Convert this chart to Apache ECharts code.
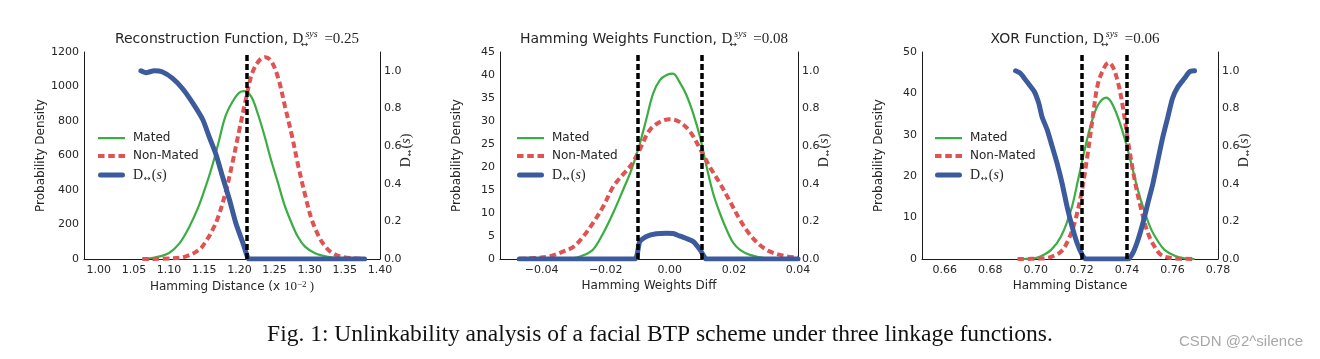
<!DOCTYPE html>
<html><head><meta charset="utf-8">
<script src="https://cdn.jsdelivr.net/npm/echarts@6/dist/echarts.min.js"></script>
<style>html,body{margin:0;padding:0;background:#fff}#c{width:1320px;height:359px}</style>
</head><body><div id="c"></div>
<script>
// ---------- Data ----------
// Reconstruction function
const reconMatedX = [1.062,1.081,1.100,1.115,1.128,1.142,1.152,1.161,1.170,1.180,1.190,1.200,1.207,1.217,1.226,1.236,1.245,1.255,1.264,1.274,1.283,1.293,1.307,1.326,1.340,1.378];
const reconMatedY = [0,10,35,92,180,305,420,535,670,825,910,965,973,940,845,710,575,440,315,210,130,73,35,12,4,0];
const reconNonX = [1.062,1.105,1.124,1.143,1.152,1.162,1.170,1.180,1.190,1.200,1.210,1.218,1.228,1.237,1.246,1.256,1.265,1.275,1.284,1.294,1.303,1.313,1.322,1.332,1.346,1.378];
const reconNonY = [0,4,15,54,100,170,245,380,555,750,940,1075,1150,1170,1143,1037,882,710,535,362,227,131,73,35,12,0];
const reconDX = [1.060,1.067,1.079,1.090,1.105,1.119,1.134,1.148,1.157,1.167,1.176,1.186,1.195,1.205,1.212,1.214,1.378];
const reconDY = [1.0,0.99,1.0,0.995,0.96,0.906,0.827,0.74,0.65,0.553,0.438,0.314,0.19,0.085,0.005,0,0];
const reconThresholds = [1.2133];

// Hamming weights function
const hwMatedX = [-0.047,-0.030,-0.027,-0.024,-0.0208,-0.0177,-0.0146,-0.012,-0.0094,-0.0073,-0.0052,-0.0031,-0.001,0.001,0.003,0.0052,0.0073,0.0094,0.0115,0.0135,0.0156,0.0177,0.0198,0.0219,0.025,0.030,0.035,0.040];
const hwMatedY = [0,0.2,0.8,2,5.6,10,15,19.4,25,30.5,36,38.9,40,40.3,38.5,35.6,31.6,26.6,20,14.3,10,6.4,3.5,2,0.9,0.14,0,0];
const hwNonX = [-0.047,-0.0426,-0.0374,-0.033,-0.030,-0.027,-0.024,-0.0208,-0.0177,-0.0146,-0.012,-0.0094,-0.0063,-0.0031,0,0.003,0.0063,0.0094,0.0125,0.0156,0.0188,0.0219,0.025,0.028,0.031,0.0355,0.040];
const hwNonY = [0.05,0.2,0.6,1.7,2.7,4.9,7.8,11.4,15.7,18.4,20.5,23.8,28,29.8,30.4,29.8,27.7,24,20,16.5,12.5,8.5,5.3,3.1,1.7,0.7,0.3];
const hwDX = [-0.047,-0.011,-0.0094,-0.0073,-0.0042,-0.001,0.001,0.003,0.005,0.0073,0.0094,0.011,0.0112,0.040];
const hwDY = [0,0,0.093,0.12,0.134,0.137,0.136,0.123,0.11,0.093,0.05,0.005,0,0];
const hwThresholds = [-0.011, 0.011];

// XOR function
const xorMatedX = [0.692,0.6993,0.702,0.7067,0.7111,0.7155,0.7185,0.7214,0.7243,0.7273,0.7309,0.733,0.736,0.739,0.7419,0.7448,0.7477,0.7507,0.7536,0.7565,0.761,0.7653,0.7697];
const xorMatedY = [0,0.16,0.6,2.2,5.5,11.9,19,26.3,32.7,37.2,39,38,34.3,29.1,23.1,16.7,11.5,7.1,4.3,2.2,0.8,0.16,0];
const xorNonX = [0.692,0.702,0.7067,0.7111,0.714,0.717,0.720,0.7228,0.725,0.7273,0.7302,0.732,0.7338,0.736,0.7382,0.7404,0.7434,0.7463,0.7492,0.7521,0.755,0.7594,0.7697];
const xorNonY = [0,0.1,0.5,1.8,4.3,8.7,15.9,25.5,34.3,42.4,46.4,47.4,46.4,42.8,36.8,28.7,19.1,11.9,6.3,3.0,1.0,0.24,0];
const xorDX = [0.6911,0.6933,0.6962,0.6993,0.7013,0.7027,0.705,0.7072,0.7093,0.7115,0.7137,0.7159,0.7181,0.7203,0.7218,0.7404,0.7426,0.7448,0.747,0.7492,0.7514,0.7536,0.7558,0.758,0.760,0.7624,0.7653,0.7675,0.7697];
const xorDY = [1.0,0.986,0.94,0.89,0.827,0.756,0.686,0.597,0.509,0.403,0.279,0.173,0.085,0.023,0,0,0.032,0.1,0.19,0.297,0.4,0.526,0.65,0.756,0.853,0.915,0.96,0.995,1.0];
const xorThresholds = [0.7235, 0.7409];

// Titles / axis texts
const titleNames = ['Reconstruction Function, ', 'Hamming Weights Function, ', 'XOR Function, '];
const titleValues = ['0.25', '0.08', '0.06'];
const xAxisNames = ['Hamming Distance (x {e|10}{sup|−2}{e| )}', 'Hamming Weights Diff', 'Hamming Distance'];
const leftYName = 'Probability Density';

// Axis ranges and tick labels
const xMins = [0.979, -0.053, 0.65];
const xMaxs = [1.40, 0.04, 0.78];
const xSteps = [0.001, 0.001, 0.01];          // base grid for ticks
const xLabelEvery = [0.05, 0.02, 0.02];       // labelled ticks
const xLabelDecimals = [2, 2, 2];
const yMaxs = [1200, 45, 50];
const yIntervals = [200, 5, 10];
const rightTicks = [0.0, 0.2, 0.4, 0.6, 0.8, 1.0];

// ---------- Style ----------
const GREEN = '#3aae44', RED = '#df5353', BLUE = '#3c5b9c';
const TXT = '#262626';
const grids = [
  {left: 84, top: 52, width: 296, height: 207},
  {left: 500, top: 52, width: 298, height: 207},
  {left: 922, top: 52, width: 296, height: 207}
];
const legendLefts = [93, 512, 930];
const zip = (a, b) => a.map((v, i) => [v, b[i]]);

const serif = 'Liberation Serif';
const richD = {
  d: {fontFamily: serif, fontSize: 14, color: TXT, lineHeight: 16},
  arr: {fontFamily: 'DejaVu Sans', fontSize: 8, color: TXT, verticalAlign: 'bottom', lineHeight: 16, padding: [0, 1, 0, 1]},
  p: {fontFamily: serif, fontSize: 14, color: TXT, lineHeight: 16},
  i: {fontFamily: serif, fontStyle: 'italic', fontSize: 14, color: TXT, lineHeight: 16}
};
const dText = '{d|D}{arr|↔}{p|(}{i|s}{p|)}';

const option = {
  animation: false,
  backgroundColor: '#fff',
  title: [], grid: grids, xAxis: [], yAxis: [], legend: [], series: [],
  graphic: [
    {type: 'text', left: 'center', top: 323, style: {text: 'Fig. 1: Unlinkability analysis of a facial BTP scheme under three linkage functions.', font: '23.5px "Liberation Serif"', fill: '#111'}},
    {type: 'text', right: 17, top: 334, style: {text: 'CSDN @2^silence', font: '15px "Liberation Sans"', fill: '#a8a8a8'}}
  ]
};

const datasets = [
  [reconMatedX, reconMatedY, reconNonX, reconNonY, reconDX, reconDY, reconThresholds],
  [hwMatedX, hwMatedY, hwNonX, hwNonY, hwDX, hwDY, hwThresholds],
  [xorMatedX, xorMatedY, xorNonX, xorNonY, xorDX, xorDY, xorThresholds]
];

const greenIcon = 'path://M0,0h0.01v0.01h-0.01zM27,12h-0.01v-0.01h0.01zM0,4.9h27v2.3h-27z';
const redIcon = 'path://M0,0h0.01v0.01h-0.01zM27,12h-0.01v-0.01h0.01zM0,4h6.5v4h-6.5zM10.2,4h6.6v4h-6.6zM20.5,4h6.5v4h-6.5z';
const blueIcon = 'path://M0,0h0.01v0.01h-0.01zM27,12h-0.01v-0.01h0.01zM2.5,3.5h22a2.5,2.5 0 0 1 0,5h-22a2.5,2.5 0 0 1 0,-5z';

for (let k = 0; k < 3; k++) {
  const g = grids[k];
  option.title.push({
    text: titleNames[k] + '{d|D}{arr|↔}{sup|sys}{eq| =' + titleValues[k] + '}',
    left: g.left + g.width / 2, textAlign: 'center', top: 24,
    textStyle: {
      fontFamily: 'DejaVu Sans', fontSize: 14, fontWeight: 'normal', color: TXT, lineHeight: 20,
      rich: {
        d: {fontFamily: serif, fontSize: 15, color: TXT, lineHeight: 20},
        arr: {fontFamily: 'DejaVu Sans', fontSize: 9, color: TXT, verticalAlign: 'bottom', lineHeight: 17, width: 0.01, padding: [0, 0, 0, 1]},
        sup: {fontFamily: serif, fontStyle: 'italic', fontSize: 10, color: TXT, verticalAlign: 'top', lineHeight: 14, padding: [0, 3, 0, 1]},
        eq: {fontFamily: serif, fontSize: 15, color: TXT, lineHeight: 20}
      }
    }
  });
  const every = xLabelEvery[k], dec = xLabelDecimals[k];
  option.xAxis.push({
    type: 'value', gridIndex: k, min: xMins[k], max: xMaxs[k], interval: xSteps[k],
    name: xAxisNames[k], nameLocation: 'middle', nameGap: 21, nameMoveOverlap: false,
    nameTextStyle: {fontFamily: 'DejaVu Sans', fontSize: 12, color: TXT,
      rich: {e: {fontFamily: serif, fontSize: 13, color: TXT}, sup: {fontFamily: serif, fontSize: 9, color: TXT, verticalAlign: 'top', lineHeight: 12}}},
    axisLine: {show: true, onZero: false, lineStyle: {color: '#1a1a1a', width: 1}},
    axisTick: {show: false}, splitLine: {show: false},
    axisLabel: {
      margin: 6, fontFamily: 'DejaVu Sans', fontSize: 11, color: TXT,
      showMinLabel: true, showMaxLabel: true,
      formatter: function (v) {
        const r = v / every;
        if (Math.abs(r - Math.round(r)) > 1e-6) return '';
        const s = (Math.round(r) * every).toFixed(dec);
        return s.replace('-', '−');
      }
    }
  });
  option.yAxis.push({
    type: 'value', gridIndex: k, min: 0, max: yMaxs[k], interval: yIntervals[k], position: 'left',
    name: leftYName, nameLocation: 'middle', nameRotate: 90, nameGap: 37, nameMoveOverlap: false,
    nameTextStyle: {fontFamily: 'DejaVu Sans', fontSize: 12, color: TXT},
    axisLine: {show: true, onZero: false, lineStyle: {color: '#1a1a1a', width: 1}},
    axisTick: {show: false}, splitLine: {show: false},
    axisLabel: {margin: 5, fontFamily: 'DejaVu Sans', fontSize: 11, color: TXT, formatter: v => String(v)}
  });
  option.yAxis.push({
    type: 'value', gridIndex: k, min: 0, max: 1.1, interval: 0.2, position: 'right',
    name: dText, nameLocation: 'middle', nameRotate: 90, nameGap: 18, nameMoveOverlap: false,
    nameTextStyle: {rich: richD, padding: [0, 0, 0, 10]},
    axisLine: {show: true, onZero: false, lineStyle: {color: '#1a1a1a', width: 1}},
    axisTick: {show: false}, splitLine: {show: false},
    axisLabel: {margin: 4, fontFamily: 'DejaVu Sans', fontSize: 11, color: TXT, showMaxLabel: false,
      formatter: v => (rightTicks.some(t => Math.abs(t - v) < 1e-6) ? v.toFixed(1) : '')}
  });
  option.legend.push({
    orient: 'vertical', left: legendLefts[k], top: 126, itemWidth: 27, itemHeight: 12, itemGap: 4,
    symbolKeepAspect: false, selectedMode: false,
    textStyle: {fontFamily: 'DejaVu Sans', fontSize: 12, color: TXT, lineHeight: 14, padding: [0, 0, 0, 3], rich: richD},
    itemStyle: {borderWidth: 0},
    formatter: name => (name === 'Dlink' ? dText : name),
    data: [
      {name: 'Mated', icon: greenIcon, itemStyle: {color: GREEN, borderWidth: 0}},
      {name: 'Non-Mated', icon: redIcon, itemStyle: {color: RED, borderWidth: 0}},
      {name: 'Dlink', icon: blueIcon, itemStyle: {color: BLUE, borderWidth: 0}}
    ]
  });
  const d = datasets[k];
  const common = {type: 'line', xAxisIndex: k, showSymbol: false, symbol: 'none', smooth: 0.35, silent: true};
  option.series.push(Object.assign({}, common, {
    name: 'Mated', yAxisIndex: 2 * k, data: zip(d[0], d[1]), color: GREEN,
    lineStyle: {color: GREEN, width: 2.2}, z: 2
  }));
  option.series.push(Object.assign({}, common, {
    name: 'Non-Mated', yAxisIndex: 2 * k, data: zip(d[2], d[3]), color: RED,
    lineStyle: {color: RED, width: 4, type: [6.5, 3.7]}, z: 3
  }));
  option.series.push(Object.assign({}, common, {
    name: 'Dlink', yAxisIndex: 2 * k + 1, data: zip(d[4], d[5]), color: BLUE, smooth: 0.2,
    lineStyle: {color: BLUE, width: 5, cap: 'round', join: 'round'}, z: 4
  }));
  option.series.push({
    type: 'line', name: 'thr' + k, xAxisIndex: k, yAxisIndex: 2 * k, data: [], silent: true, z: 6,
    markLine: {
      silent: true, symbol: ['none', 'none'], label: {show: false}, animation: false,
      lineStyle: {color: '#000', width: 3.5, type: [6, 3]},
      emphasis: {disabled: true},
      data: d[6].map(v => ({xAxis: v}))
    }
  });
}

const chart = echarts.init(document.getElementById('c'), null, {renderer: 'canvas'});
chart.setOption(option);
</script></body></html>
